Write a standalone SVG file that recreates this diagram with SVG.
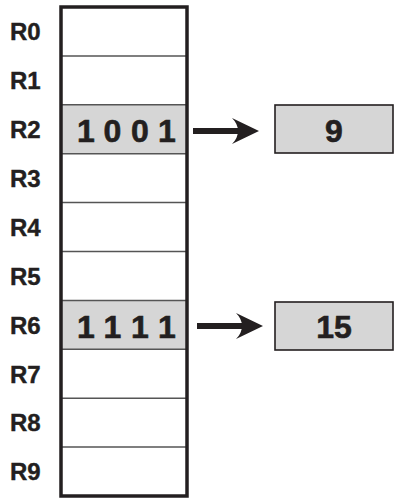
<svg xmlns="http://www.w3.org/2000/svg" width="410" height="504" viewBox="0 0 410 504">
<style>
.lbl{font-family:"Liberation Sans",Arial,sans-serif;font-weight:bold;font-size:24px;fill:#231f20;stroke:#231f20;stroke-width:0.4}
.dig{font-family:"Liberation Sans",Arial,sans-serif;font-weight:bold;font-size:32px;fill:#231f20;stroke:#231f20;stroke-width:0.6;text-anchor:middle}
.div{stroke:#555;stroke-width:1.5}
.hl{fill:#d6d6d6}
.val{fill:#d6d6d6;stroke:#231f20;stroke-width:1.6}
.arr{fill:#231f20}
</style>
<rect width="410" height="504" fill="#fff"/>
<g id="labels">
<text class="lbl" x="10" y="40">R0</text>
<text class="lbl" x="10" y="89">R1</text>
<text class="lbl" x="10" y="138">R2</text>
<text class="lbl" x="10" y="187">R3</text>
<text class="lbl" x="10" y="236">R4</text>
<text class="lbl" x="10" y="285">R5</text>
<text class="lbl" x="10" y="334">R6</text>
<text class="lbl" x="10" y="383">R7</text>
<text class="lbl" x="10" y="431">R8</text>
<text class="lbl" x="10" y="480">R9</text>
</g>
<g id="registers">
<rect class="hl" x="61" y="104.8" width="126" height="48.9"/>
<rect class="hl" x="61" y="300.4" width="126" height="48.9"/>
<line class="div" x1="61" y1="55.9" x2="187" y2="55.9"/>
<line class="div" x1="61" y1="104.8" x2="187" y2="104.8"/>
<line class="div" x1="61" y1="153.7" x2="187" y2="153.7"/>
<line class="div" x1="61" y1="202.6" x2="187" y2="202.6"/>
<line class="div" x1="61" y1="251.5" x2="187" y2="251.5"/>
<line class="div" x1="61" y1="300.4" x2="187" y2="300.4"/>
<line class="div" x1="61" y1="349.3" x2="187" y2="349.3"/>
<line class="div" x1="61" y1="398.2" x2="187" y2="398.2"/>
<line class="div" x1="61" y1="447.1" x2="187" y2="447.1"/>
<rect x="61" y="7" width="126" height="489" fill="none" stroke="#231f20" stroke-width="3.5"/>
<text class="dig" x="86 112.5 140 167" y="142">1001</text>
<text class="dig" x="86 112.5 140 167" y="338">1111</text>
</g>
<g id="value9">
<rect class="val" x="275" y="105" width="118" height="48"/>
<text class="dig" x="334" y="142">9</text>
</g>
<g id="value15">
<rect class="val" x="275" y="302" width="118" height="48"/>
<text class="dig" x="334" y="338">15</text>
</g>
<g id="connectors">
<rect class="arr" x="193" y="128" width="46" height="6"/>
<path class="arr" d="M259,131 L232,118 Q238,124 238,131 Q238,138 232,144 Z"/>
<rect class="arr" x="197" y="323" width="46" height="6"/>
<path class="arr" d="M263,326 L236,313 Q242,319 242,326 Q242,333 236,339 Z"/>
</g>
</svg>
